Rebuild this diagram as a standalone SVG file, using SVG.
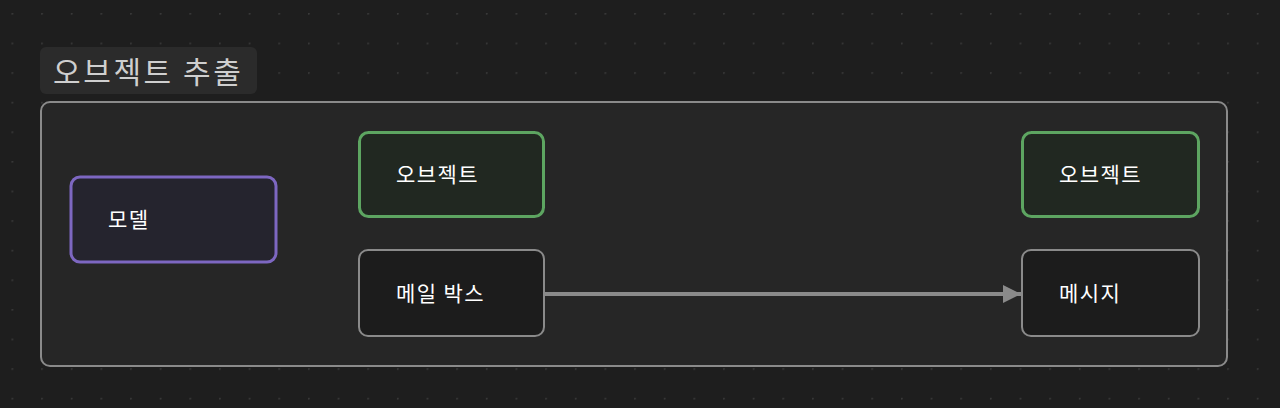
<svg xmlns="http://www.w3.org/2000/svg" width="1280" height="408" viewBox="0 0 1280 408">
<defs>
<pattern id="dots" x="11.5" y="13" width="29.65" height="29.6" patternUnits="userSpaceOnUse">
<circle cx="0.8" cy="0.8" r="1" fill="#3a3a3a"/>
</pattern>
<marker id="arr" viewBox="0 0 10 10" refX="10" refY="5" markerWidth="4.6" markerHeight="5" markerUnits="strokeWidth" orient="auto">
<path d="M0,0 L10,5 L0,10 Z" fill="#8a8a8a"/>
</marker>
<style>
.t{font-family:"Noto Sans CJK KR","Noto Sans",sans-serif;font-size:21px;letter-spacing:1.4px;fill:#ffffff}
.green{fill:#212821;stroke:#5da561;stroke-width:3}
.gray{fill:#1c1c1c;stroke:#8a8a8a;stroke-width:2}
.purple{fill:#25242e;stroke:#7d67c1;stroke-width:3}
</style>
</defs>
<rect width="1280" height="408" fill="#1e1e1e"/>
<rect width="1280" height="408" fill="url(#dots)"/>
<g id="group">
<rect x="41" y="102" width="1186" height="264" rx="9" fill="#262626" stroke="#8a8a8a" stroke-width="2"/>
<rect x="40" y="47" width="217" height="47" rx="6" fill="#2b2b2b"/>
<text x="53" y="83" font-family="Noto Sans CJK KR, Noto Sans, sans-serif" font-size="30" letter-spacing="2.6" fill="#cfcfcf">오브젝트 추출</text>
</g>
<g id="connectors">
<line x1="544" y1="294" x2="1021" y2="294" stroke="#8a8a8a" stroke-width="4" marker-end="url(#arr)"/>
</g>
<g id="model">
<rect class="purple" x="71" y="177" width="205" height="85" rx="9"/>
<text class="t" x="108" y="227">모델</text>
</g>
<g id="object1">
<rect class="green" x="359.5" y="132.5" width="184" height="84" rx="9"/>
<text class="t" x="396" y="182">오브젝트</text>
</g>
<g id="mailbox">
<rect class="gray" x="359" y="250" width="185" height="86" rx="9"/>
<text class="t" x="396" y="301">메일 박스</text>
</g>
<g id="object2">
<rect class="green" x="1022.5" y="132.5" width="176" height="84" rx="9"/>
<text class="t" x="1059" y="182">오브젝트</text>
</g>
<g id="message">
<rect class="gray" x="1022" y="250" width="177" height="86" rx="9"/>
<text class="t" x="1059" y="301">메시지</text>
</g>
</svg>
